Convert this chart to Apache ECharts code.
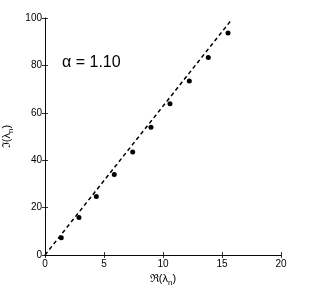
<!DOCTYPE html>
<html><head><meta charset="utf-8">
<script src="https://cdn.jsdelivr.net/npm/echarts@6/dist/echarts.min.js"></script>
<style>html,body{margin:0;padding:0;background:#fff}#c{width:314px;height:286px}</style>
</head><body><div id="c"></div>
<script>
var reVals = [1.38, 2.88, 4.35, 5.87, 7.43, 8.98, 10.59, 12.23, 13.84, 15.51];
var imVals = [7.3, 15.8, 24.7, 34.0, 43.5, 53.9, 63.8, 73.4, 83.3, 93.7];
var lineX = [0, 15.7];
var lineY = [0, 98.6];
var xTicks = [0, 5, 10, 15, 20];
var yTicks = [0, 20, 40, 60, 80, 100];
var annotation = 'α = 1.10';

var font = '"Liberation Sans", Arial, Helvetica, sans-serif';
var pts = reVals.map(function(v, i){ return [v, imVals[i]]; });
var linePts = lineX.map(function(v, i){ return [v, lineY[i]]; });
var tickCommon = {show: true, inside: true, length: 3, lineStyle: {color: '#000', width: 0.8}};
var lineCommon = {show: true, lineStyle: {color: '#000', width: 0.8}};
var chart = echarts.init(document.getElementById('c'), null, {renderer: 'canvas'});
chart.setOption({
  animation: false,
  backgroundColor: '#fff',
  grid: {left: 45, right: 33, top: 18, bottom: 31, containLabel: false, outerBoundsMode: 'none'},
  xAxis: [{
    type: 'value', min: 0, max: 20, interval: 5, position: 'bottom',
    axisLine: lineCommon, axisTick: tickCommon, splitLine: {show: false},
    axisLabel: {color: '#000', fontSize: 10, fontFamily: font, margin: 4,
      formatter: function(v){ return xTicks.indexOf(v) >= 0 ? String(v) : ''; }},
    name: '{a|ℜ(λ}{s|n}{a|)}', nameLocation: 'middle', nameGap: 14,
    nameTextStyle: {rich: {a: {fontSize: 11, fontFamily: font, color: '#000'},
      s: {fontSize: 8, fontFamily: font, color: '#000', verticalAlign: 'bottom', padding: [6, 0, 0, 0]}}}
  }, {
    type: 'value', min: 0, max: 20, interval: 5, position: 'top',
    axisLine: lineCommon, axisTick: tickCommon, splitLine: {show: false}, axisLabel: {show: false}
  }],
  yAxis: [{
    type: 'value', min: 0, max: 100, interval: 20, position: 'left',
    axisLine: lineCommon, axisTick: tickCommon, splitLine: {show: false},
    axisLabel: {color: '#000', fontSize: 10, fontFamily: font, margin: 3,
      formatter: function(v){ return yTicks.indexOf(v) >= 0 ? String(v) : ''; }},
    name: '{a|ℑ(λ}{s|n}{a|)}', nameLocation: 'middle', nameGap: 27,
    nameTextStyle: {rich: {a: {fontSize: 11, fontFamily: font, color: '#000'},
      s: {fontSize: 8, fontFamily: font, color: '#000', verticalAlign: 'bottom', padding: [6, 0, 0, 0]}}}
  }, {
    type: 'value', min: 0, max: 100, interval: 20, position: 'right',
    axisLine: lineCommon, axisTick: tickCommon, splitLine: {show: false}, axisLabel: {show: false}
  }],
  series: [{
    type: 'line', data: linePts, showSymbol: false, symbol: 'none',
    lineStyle: {color: '#000', width: 1.5, type: [4, 3]}, z: 2
  }, {
    type: 'scatter', data: pts, symbol: 'circle', symbolSize: 5,
    itemStyle: {color: '#000', opacity: 1}, z: 3
  }],
  graphic: [{
    type: 'text', left: 62, top: 55,
    style: {text: annotation, fontSize: 16, fontFamily: font, fill: '#000'}
  }]
});
</script></body></html>
